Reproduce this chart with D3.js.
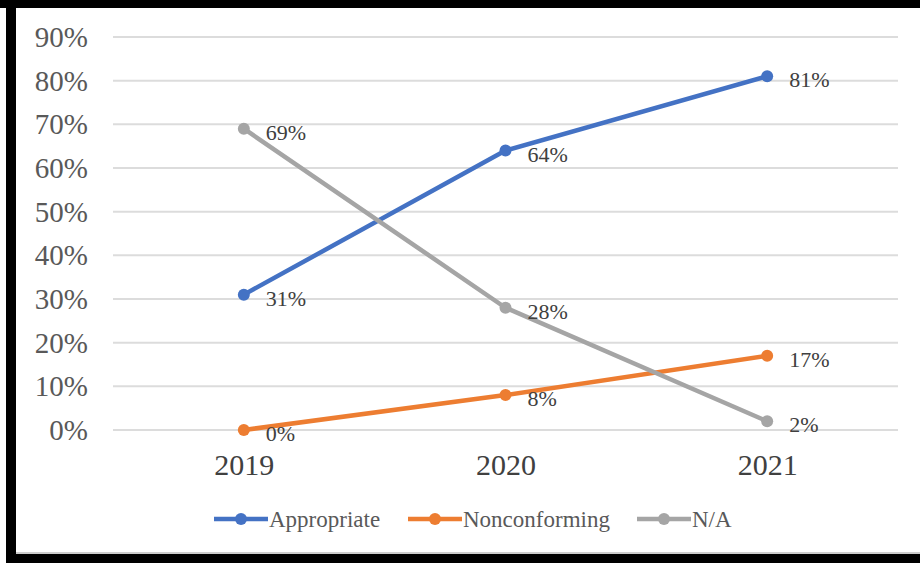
<!DOCTYPE html>
<html>
<head>
<meta charset="utf-8">
<script src="https://cdn.jsdelivr.net/npm/d3@7/dist/d3.min.js"></script>
<style>
  html, body { margin: 0; padding: 0; background: #fff; }
  svg { display: block; }
</style>
</head>
<body>
<svg id="chart" width="920" height="563"></svg>
<script>
const years = ["2019", "2020", "2021"];
const appropriate = [0.31, 0.64, 0.81];
const nonconforming = [0.00, 0.08, 0.17];
const na = [0.69, 0.28, 0.02];
const seriesNames = ["Appropriate", "Nonconforming", "N/A"];
const seriesColors = ["#4472C4", "#ED7D31", "#A5A5A5"];
const yTicks = [0, 0.1, 0.2, 0.3, 0.4, 0.5, 0.6, 0.7, 0.8, 0.9];

const series = [appropriate, nonconforming, na].map((vals, i) => ({
  name: seriesNames[i], color: seriesColors[i],
  points: vals.map((v, j) => ({ year: years[j], value: v }))
}));

const W = 920, H = 563;
const svg = d3.select("#chart");
const font = "'Liberation Serif', 'Times New Roman', serif";

// frame
svg.append("rect").attr("x", 0).attr("y", 0).attr("width", W).attr("height", H).attr("fill", "#fff");
svg.append("rect").attr("x", 0).attr("y", 0).attr("width", W).attr("height", 8).attr("fill", "#000");
svg.append("rect").attr("x", 6).attr("y", 0).attr("width", 10).attr("height", H).attr("fill", "#000");
svg.append("rect").attr("x", 6).attr("y", 554).attr("width", W - 6).attr("height", 9).attr("fill", "#000");
svg.append("line").attr("x1", 16).attr("x2", W).attr("y1", 553).attr("y2", 553).attr("stroke", "#9a9a9a").attr("stroke-width", 1);

const x = d3.scalePoint().domain(years).range([113, 898]).padding(0.5);
const y = d3.scaleLinear().domain([0, 0.9]).range([430, 37]);

// gridlines
svg.append("g").selectAll("line").data(yTicks).join("line")
  .attr("x1", 113).attr("x2", 898)
  .attr("y1", d => y(d)).attr("y2", d => y(d))
  .attr("stroke", "#DCDCDC").attr("stroke-width", 2);

// y axis labels
const yAxis = d3.axisLeft(y).tickValues(yTicks).tickFormat(d3.format(".0%")).tickSize(0).tickPadding(0);
const gy = svg.append("g").attr("transform", "translate(88,0)").call(yAxis);
gy.select(".domain").remove();
gy.selectAll("text").attr("font-family", font).attr("font-size", 29).attr("fill", "#595959")
  .attr("dy", "0.33em");

// x axis labels
const xAxis = d3.axisBottom(x).tickSize(0).tickPadding(0);
const gx = svg.append("g").attr("transform", "translate(0,452)").call(xAxis);
gx.select(".domain").remove();
gx.selectAll("text").attr("font-family", font).attr("font-size", 30).attr("fill", "#404040")
  .attr("dy", "0.75em");

// lines
const line = d3.line().x(d => x(d.year)).y(d => y(d.value));
const gs = svg.append("g");
series.forEach(s => {
  gs.append("path").datum(s.points).attr("d", line)
    .attr("fill", "none").attr("stroke", s.color).attr("stroke-width", 4.5)
    .attr("stroke-linejoin", "round").attr("stroke-linecap", "round");
  gs.selectAll(null).data(s.points).join("circle")
    .attr("cx", d => x(d.year)).attr("cy", d => y(d.value)).attr("r", 6)
    .attr("fill", s.color);
});

// data labels
const fmt = d3.format(".0%");
series.forEach(s => {
  svg.append("g").selectAll("text").data(s.points).join("text")
    .attr("x", d => x(d.year) + 22).attr("y", d => y(d.value) + 11)
    .attr("font-family", font).attr("font-size", 22).attr("fill", "#404040")
    .text(d => fmt(d.value));
});

// legend
const legendX = [214, 408, 637];
const lg = svg.append("g");
series.forEach((s, i) => {
  const g = lg.append("g").attr("transform", `translate(${legendX[i]},519)`);
  g.append("line").attr("x1", 0).attr("x2", 54).attr("y1", 0).attr("y2", 0)
    .attr("stroke", s.color).attr("stroke-width", 4.5);
  g.append("circle").attr("cx", 27).attr("cy", 0).attr("r", 6).attr("fill", s.color);
  g.append("text").attr("x", 55).attr("y", 8)
    .attr("font-family", font).attr("font-size", 23).attr("fill", "#595959")
    .text(s.name);
});
</script>
</body>
</html>
